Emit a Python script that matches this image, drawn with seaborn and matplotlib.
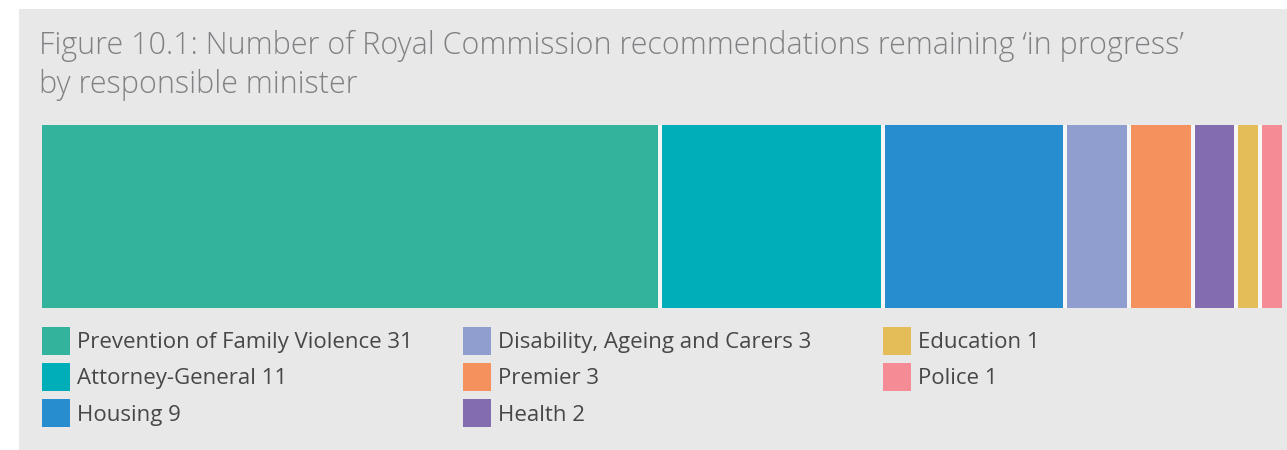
import matplotlib
matplotlib.use("Agg")
import matplotlib.pyplot as plt
import seaborn as sns
import numpy as np
import pandas as pd
from matplotlib.patches import Rectangle, Patch

ministers = ["Prevention of Family Violence", "Attorney-General", "Housing",
             "Disability, Ageing and Carers", "Premier", "Health",
             "Education", "Police"]
counts = [31, 11, 9, 3, 3, 2, 1, 1]
colors = ["#34b39c", "#00aeb9", "#288dce", "#8f9dcf",
          "#f5915c", "#836db0", "#e4bd58", "#f58b95"]
title_lines = ["Figure 10.1: Number of Royal Commission recommendations remaining \u2018in progress\u2019",
               "by responsible minister"]

sns.set_theme(style="white")
plt.rcParams['font.family'] = ['Open Sans', 'DejaVu Sans']

W, H = 1287, 450
fig = plt.figure(figsize=(W / 100, H / 100), dpi=100, facecolor="white")
bg = "#e8e8e8"
fig.patches.append(Rectangle((19 / W, 0), 1 - 19 / W, (H - 9) / H,
                             transform=fig.transFigure, facecolor=bg,
                             edgecolor="none", zorder=-10))

ax = fig.add_axes([42 / W, (H - 308) / H, (1282 - 42) / W, (308 - 125) / H])
ax.set_facecolor(bg)

gap = 0.2  # visual gap between segments, in value units
df = pd.DataFrame({"minister": ministers, "count": counts, "color": colors})
df["end"] = df["count"].cumsum() + gap * np.arange(len(df))
# stacked: draw cumulative ends from largest to smallest
for i in range(len(df) - 1, -1, -1):
    sns.barplot(x=[df["end"].iloc[i]], y=["all"], orient="h",
                color=df["color"].iloc[i], saturation=1, width=1,
                linewidth=0, ax=ax)
for e in df["end"].iloc[:-1]:
    ax.axvspan(e, e + gap, color="#f6f6f6", lw=0, zorder=5)

ax.set_xlim(0, df["end"].iloc[-1])
ax.set_ylim(0.5, -0.5)
ax.axis("off")

for k, (line, base) in enumerate(zip(title_lines, [54, 93])):
    fig.text(39 / W, 1 - base / H, line, ha="left", va="baseline",
             fontsize=22, color="#818185", fontweight="light")

col_x = [42, 463, 883]
groups = [[0, 1, 2], [3, 4, 5], [6, 7]]
for cx, g in zip(col_x, groups):
    handles = [Patch(facecolor=colors[k], edgecolor="none",
                     label=f"{ministers[k]} {counts[k]}") for k in g]
    leg = fig.legend(handles=handles, loc="upper left",
                     bbox_to_anchor=(cx / W, 1 - 327 / H),
                     frameon=False, borderpad=0, borderaxespad=0,
                     fontsize=16, handlelength=1.26, handleheight=1.56,
                     handletextpad=0.3, labelspacing=0.37)
    for t in leg.get_texts():
        t.set_color("#474747")

fig.savefig("out.png", dpi=100, facecolor="white")
